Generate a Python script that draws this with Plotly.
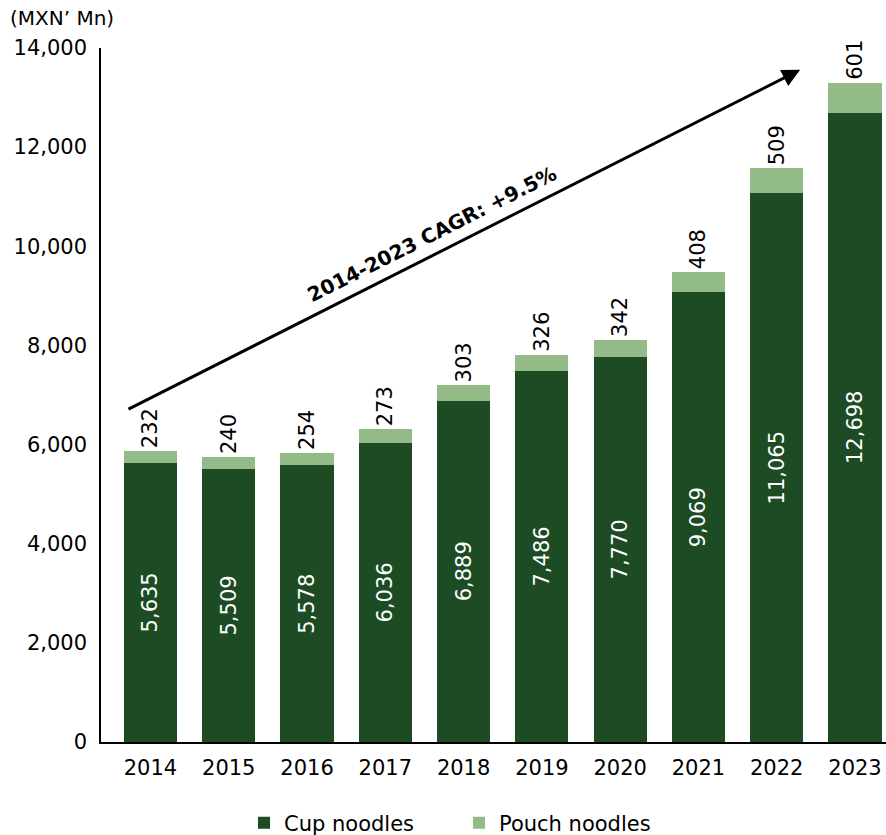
import plotly.graph_objects as go

years = ['2014', '2015', '2016', '2017', '2018', '2019', '2020', '2021', '2022', '2023']
cup = [5635, 5509, 5578, 6036, 6889, 7486, 7770, 9069, 11065, 12698]
pouch = [232, 240, 254, 273, 303, 326, 342, 408, 509, 601]

FONT = 'DejaVu Sans'
DARK = '#1c4b24'
LIGHT = '#93bb87'

fig = go.Figure()
fig.add_trace(go.Bar(x=years, y=cup, name='Cup noodles', marker_color=DARK,
                     marker_line_width=0,
                     text=[f'{v:,}' for v in cup], textposition='inside',
                     insidetextanchor='middle', textangle=-90,
                     textfont=dict(color='white', size=21, family=FONT)))
fig.add_trace(go.Bar(x=years, y=pouch, name='Pouch noodles', marker_color=LIGHT,
                     marker_line_width=0,
                     text=[f'{v:,}' for v in pouch], textposition='outside',
                     textangle=-90, cliponaxis=False,
                     textfont=dict(color='black', size=21, family=FONT)))

# CAGR arrow
fig.add_annotation(x=8.3, y=13560, ax=-0.3, ay=6700, xref='x', yref='y',
                   axref='x', ayref='y', text='', showarrow=True,
                   arrowhead=2, arrowsize=1.2, arrowwidth=3, arrowcolor='black')
fig.add_annotation(x=3.6, y=10250, xref='x', yref='y', text='<b>2014-2023 CAGR: +9.5%</b>',
                   showarrow=False, textangle=-26.8,
                   font=dict(size=20, family=FONT, color='black'))
# unit label at top-left of the page
fig.add_annotation(x=-93/785, y=1 + 30/694, xref='paper', yref='paper', text='(MXN’ Mn)',
                   xanchor='left', yanchor='middle', showarrow=False,
                   font=dict(size=20, family=FONT, color='black'))

fig.update_layout(
    width=886, height=835,
    barmode='stack', bargap=0.32,
    plot_bgcolor='white', paper_bgcolor='white',
    margin=dict(l=101, r=0, t=48, b=93, autoexpand=False),
    font=dict(family=FONT, size=21, color='black'),
    legend=dict(orientation='h', x=(244 - 101) / 785, xanchor='left',
                y=-81 / 694, yanchor='middle', entrywidth=170, entrywidthmode='pixels',
                font=dict(size=21, family=FONT), traceorder='normal'),
    xaxis=dict(range=[-0.632, 9.396], showline=True, linecolor='black', linewidth=1.5,
               ticks='', tickfont=dict(size=21), ticklabelstandoff=6),
    yaxis=dict(range=[0, 14000], dtick=2000, tickformat=',', showline=True,
               linecolor='black', linewidth=1.5, showgrid=False, zeroline=False,
               ticks='', tickfont=dict(size=21), ticklabelstandoff=8),
)

# drop the page's default body margin so the figure sits at the window corner
fig.write_html('out.html', config={'displayModeBar': False},
               post_script="document.body.style.margin='0';")
